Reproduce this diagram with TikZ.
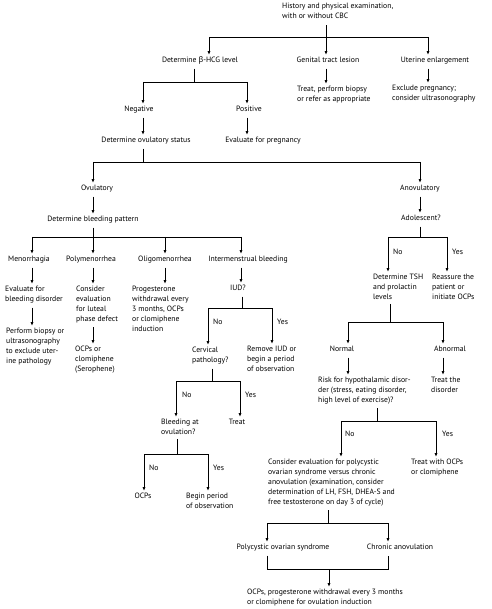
\documentclass[tikz,border=0pt]{standalone}
\usepackage{fontspec}
\setmainfont{PT Sans}
\newfontfamily\grk{Noto Sans}
\usetikzlibrary{arrows.meta}
\newcommand\fs{\fontsize{7.7}{9.8}\selectfont}
\begin{document}
\begin{tikzpicture}[x=1pt,y=-1pt,
  every node/.style={font=\fs, inner xsep=0pt, inner ysep=1pt},
  one/.style={text height=5.4pt, text depth=1.6pt, anchor=center},
  multi/.style={align=left, anchor=north west},
  lab/.style={anchor=west, text height=5.4pt, text depth=1.6pt},
  ln/.style={line width=0.75pt, shorten <=3pt},
  bar/.style={line width=0.75pt},
  arr/.style={line width=0.75pt, -{Latex[length=3.6pt,width=3pt]}, shorten >=1.5pt},
  arrn/.style={arr, shorten <=3pt},
]
\useasboundingbox (0,0) rectangle (491,609);

% ---------- nodes ----------
\node[multi] (root) at (282,2.3) {History and physical examination,\\with or without CBC};
\node[one] (hcg) at (200,61) {Determine {\grk β}-HCG level};
\node[one] (genital) at (328,61) {Genital tract lesion};
\node[one] (uterine) at (435,61) {Uterine enlargement};
\node[multi] (treatles) at (297,85.3) {Treat, perform biopsy\\or refer as appropriate};
\node[multi] (exclpreg) at (392,84.3) {Exclude pregnancy;\\consider ultrasonography};
\node[one] (negative) at (139,110) {Negative};
\node[one] (positive) at (249,110) {Positive};
\node[one] (ovstat) at (146,141) {Determine ovulatory status};
\node[one] (evalpreg) at (263,141) {Evaluate for pregnancy};
\node[one] (ovulatory) at (97,189) {Ovulatory};
\node[one] (anov) at (420,189) {Anovulatory};
\node[one] (bleedpat) at (93,220) {Determine bleeding pattern};
\node[one] (adol) at (421,219) {Adolescent?};
\node[one] (menor) at (29,260) {Menorrhagia};
\node[one] (poly) at (91,260) {Polymenorrhea};
\node[one] (oligo) at (165,260) {Oligomenorrhea};
\node[one] (inter) at (248,260) {Intermenstrual bleeding};
\node[multi] (evalbleed) at (5,285.3) {Evaluate for\\bleeding disorder};
\node[multi] (consider) at (76,285.3) {Consider\\evaluation\\for luteal\\phase defect};
\node[multi] (prog) at (132,285.3) {Progesterone\\withdrawal every\\3 months, OCPs\\or clomiphene\\induction};
\node[one] (iud) at (238,289) {IUD?};
\node[multi] (biopsy) at (6,327.3) {Perform biopsy or\\ultrasonography\\to exclude uter-\\ine pathology};
\node[multi] (ocpclom) at (75,345.3) {OCPs or\\clomiphene\\(Serophene)};
\node[multi] (cervical) at (192,346.3) {Cervical\\pathology?};
\node[multi] (removeiud) at (247,345.3) {Remove IUD or\\begin a period\\of observation};
\node[multi] (bleedov) at (161,418.3) {Bleeding at\\ovulation?};
\node[one] (treat) at (237,423) {Treat};
\node[one] (ocps) at (143,497) {OCPs};
\node[multi] (beginobs) at (186,492.3) {Begin period\\of observation};
\node[multi] (tsh) at (373,273.3) {Determine TSH\\and prolactin\\levels};
\node[multi] (reassure) at (432,273.3) {Reassure the\\patient or\\initiate OCPs};
\node[one] (normal) at (342,350) {Normal};
\node[one] (abnormal) at (450,350) {Abnormal};
\node[multi] (risk) at (318,376.3) {Risk for hypothalamic disor-\\der (stress, eating disorder,\\high level of exercise)?};
\node[multi] (treatdis) at (431,376.3) {Treat the\\disorder};
\node[multi] (pcoseval) at (268,458.3) {Consider evaluation for polycystic\\ovarian syndrome versus chronic\\anovulation (examination, consider\\determination of LH, FSH, DHEA-S and\\free testosterone on day 3 of cycle)};
\node[multi] (treatocp) at (411,458.3) {Treat with OCPs\\or clomiphene};
\node[one] (pcos) at (283,548) {Polycystic ovarian syndrome};
\node[one] (chronic) at (400,548) {Chronic anovulation};
\node[multi] (final) at (247,588.3) {OCPs, progesterone withdrawal every 3 months\\or clomiphene for ovulation induction};

% branch labels
\node[lab] (l1n) at (213,323) {No};
\node[lab] (l1y) at (277,323) {Yes};
\node[lab] (l2n) at (182,396) {No};
\node[lab] (l2y) at (245,396) {Yes};
\node[lab] (l3n) at (149,469) {No};
\node[lab] (l3y) at (213,469) {Yes};
\node[lab] (l4n) at (393,253) {No};
\node[lab] (l4y) at (452,253) {Yes};
\node[lab] (l5n) at (345,435) {No};
\node[lab] (l5y) at (442,435) {Yes};

% ---------- junctions ----------
\coordinate (b1) at (326,37);  \coordinate (b1l) at (209,37);  \coordinate (b1r) at (428,37);
\coordinate (b2) at (194,82);  \coordinate (b2l) at (143,82);  \coordinate (b2r) at (247,82);
\coordinate (b3) at (143,162); \coordinate (b3l) at (93,162);  \coordinate (b3r) at (420,162);
\coordinate (b4) at (93,237);  \coordinate (b4a) at (32,237);  \coordinate (b4c) at (165,237); \coordinate (b4d) at (241,237);
\coordinate (b5) at (242,308); \coordinate (b5l) at (208,308); \coordinate (b5r) at (272,308);
\coordinate (b6) at (212,381); \coordinate (b6l) at (176,381); \coordinate (b6r) at (240,381);
\coordinate (b7) at (177,454); \coordinate (b7l) at (144,454); \coordinate (b7r) at (208,454);
\coordinate (b8) at (420,237); \coordinate (b8l) at (388,237); \coordinate (b8r) at (447,237);
\coordinate (b9) at (390,322); \coordinate (b9l) at (348,322); \coordinate (b9r) at (443,322);
\coordinate (b10) at (377,421); \coordinate (b10l) at (341,421); \coordinate (b10r) at (436,421);
\coordinate (b11) at (328,523); \coordinate (b11l) at (267,523); \coordinate (b11r) at (388,523);
\coordinate (b12) at (329,569); \coordinate (b12l) at (267,569); \coordinate (b12r) at (388,569);

% ---------- connectors ----------
% root
\draw[ln, shorten <=5pt] (root.south -| b1) -- (b1);
\draw[bar] (b1l) -- (b1r);
\draw[arr] (b1l) -- (b1l |- hcg.north);
\draw[arr] (b1) -- (b1 |- genital.north);
\draw[arr] (b1r) -- (b1r |- uterine.north);
\draw[arrn] (genital.south -| b1) -- (b1 |- treatles.north);
\draw[arrn] (uterine.south -| b1r) -- (b1r |- exclpreg.north);
% hcg
\draw[ln] (hcg.south -| b2) -- (b2);
\draw[bar] (b2l) -- (b2r);
\draw[arr] (b2l) -- (b2l |- negative.north);
\draw[arr] (b2r) -- (b2r |- positive.north);
\draw[arrn] (negative.south -| b2l) -- (b2l |- ovstat.north);
\draw[arrn] (positive.south -| b2r) -- (b2r |- evalpreg.north);
% ovulatory status
\draw[ln] (ovstat.south -| b3) -- (b3);
\draw[bar] (b3l) -- (b3r);
\draw[arr] (b3l) -- (b3l |- ovulatory.north);
\draw[arr] (b3r) -- (b3r |- anov.north);
\draw[arrn] (ovulatory.south -| b3l) -- (b3l |- bleedpat.north);
\draw[arrn] (anov.south -| b3r) -- (b3r |- adol.north);
% bleeding pattern
\draw[ln] (bleedpat.south -| b4) -- (b4);
\draw[bar] (b4a) -- (b4d);
\draw[arr] (b4a) -- (b4a |- menor.north);
\draw[arr] (b4) -- (b4 |- poly.north);
\draw[arr] (b4c) -- (b4c |- oligo.north);
\draw[arr] (b4d) -- (b4d |- inter.north);
\draw[arrn] (menor.south -| b4a) -- (b4a |- evalbleed.north);
\draw[arrn] (evalbleed.south -| b4a) -- (b4a |- biopsy.north);
\draw[arrn] (poly.south -| b4) -- (b4 |- consider.north);
\draw[arrn] (consider.south -| b4) -- (b4 |- ocpclom.north);
\draw[arrn] (oligo.south -| b4c) -- (b4c |- prog.north);
\draw[arrn] (inter.south -| b4d) -- (b4d |- iud.north);
% IUD
\draw[ln] (iud.south -| b5) -- (b5);
\draw[bar] (b5l) -- (b5r);
\draw[arr] (b5l) -- (b5l |- cervical.north);
\draw[arr] (b5r) -- (b5r |- removeiud.north);
% cervical pathology
\draw[ln] (cervical.south -| b6) -- (b6);
\draw[bar] (b6l) -- (b6r);
\draw[arr] (b6l) -- (b6l |- bleedov.north);
\draw[arr] (b6r) -- (b6r |- treat.north);
% bleeding at ovulation
\draw[ln] (bleedov.south -| b7) -- (b7);
\draw[bar] (b7l) -- (b7r);
\draw[arr] (b7l) -- (b7l |- ocps.north);
\draw[arr] (b7r) -- (b7r |- beginobs.north);
% adolescent
\draw[ln] (adol.south -| b8) -- (b8);
\draw[bar] (b8l) -- (b8r);
\draw[arr] (b8l) -- (b8l |- tsh.north);
\draw[arr] (b8r) -- (b8r |- reassure.north);
% TSH
\draw[ln] (tsh.south -| b9) -- (b9);
\draw[bar] (b9l) -- (b9r);
\draw[arr] (b9l) -- (b9l |- normal.north);
\draw[arr] (b9r) -- (b9r |- abnormal.north);
\draw[arrn] (normal.south -| b9l) -- (b9l |- risk.north);
\draw[arrn] (abnormal.south -| b9r) -- (b9r |- treatdis.north);
% risk
\draw[ln] (risk.south -| b10) -- (b10);
\draw[bar] (b10l) -- (b10r);
\draw[arr] (b10l) -- (b10l |- pcoseval.north);
\draw[arr] (b10r) -- (b10r |- treatocp.north);
% pcos evaluation
\draw[ln] (pcoseval.south -| b11) -- (b11);
\draw[bar] (b11l) -- (b11r);
\draw[arr] (b11l) -- (b11l |- pcos.north);
\draw[arr] (b11r) -- (b11r |- chronic.north);
% bracket to final
\draw[ln, shorten >=3pt] (pcos.south -| b12l) -- (b12l) -- (b12r) -- (chronic.south -| b12r);
\draw[arr] (b12) -- (b12 |- final.north);
\end{tikzpicture}
\end{document}
